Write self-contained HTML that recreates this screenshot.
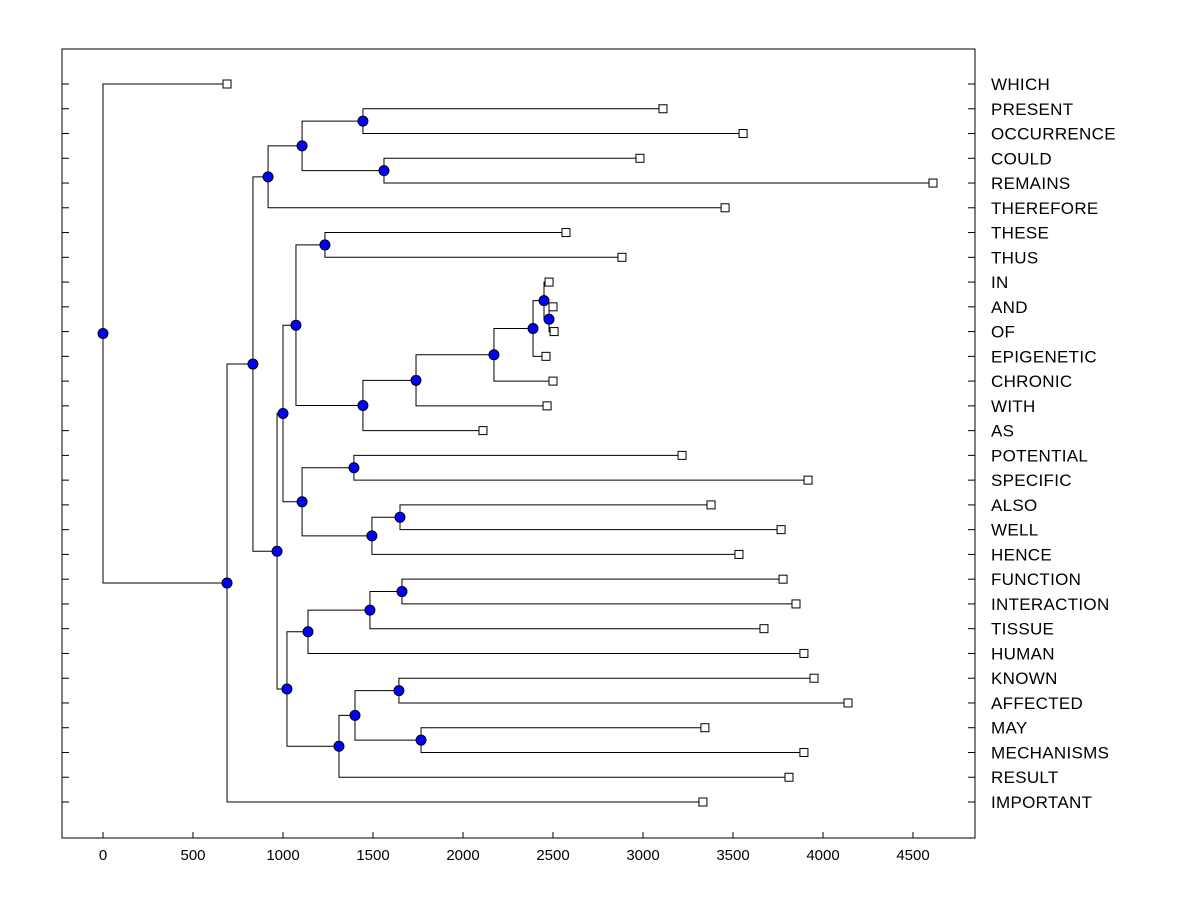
<!DOCTYPE html>
<html><head><meta charset="utf-8"><style>
body{margin:0;background:#fff;}
svg text{font-family:"Liberation Sans",sans-serif;}
</style></head><body>
<svg id="chart" width="1200" height="900" xmlns="http://www.w3.org/2000/svg">
<rect x="0" y="0" width="1200" height="900" fill="#fff"/>
<rect x="62" y="49" width="913" height="789" fill="none" stroke="#000" stroke-width="1"/>
<g id="axes"></g>
<g id="links"></g>
<g id="marks"></g>
</svg>
<script>
const leafNames=["WHICH","PRESENT","OCCURRENCE","COULD","REMAINS","THEREFORE","THESE","THUS","IN","AND","OF","EPIGENETIC","CHRONIC","WITH","AS","POTENTIAL","SPECIFIC","ALSO","WELL","HENCE","FUNCTION","INTERACTION","TISSUE","HUMAN","KNOWN","AFFECTED","MAY","MECHANISMS","RESULT","IMPORTANT"];
const leafValues=[689,3111,3556,2983,4611,3456,2572,2883,2478,2500,2506,2461,2500,2467,2111,3217,3917,3378,3767,3533,3778,3850,3672,3894,3950,4139,3344,3894,3811,3333];
const nodeIds=["F","G","E","C","L","R","Q","P","O","N","M","J","S","U","T","K","H","Y","X","V","AA","AB","Z","W","I","D","B","A","root"];
const nodeLeft=["PRESENT","COULD","F","E","THESE","AND","IN","Q","P","O","N","L","POTENTIAL","ALSO","U","S","J","FUNCTION","Y","X","KNOWN","MAY","AA","Z","V","H","C","B","WHICH"];
const nodeRight=["OCCURRENCE","REMAINS","G","THEREFORE","THUS","OF","R","EPIGENETIC","CHRONIC","WITH","AS","M","SPECIFIC","WELL","HENCE","T","K","INTERACTION","TISSUE","HUMAN","AFFECTED","MECHANISMS","AB","RESULT","W","I","D","IMPORTANT","A"];
const nodeValues=[1444,1561,1106,917,1233,2478,2450,2389,2172,1739,1444,1072,1394,1650,1494,1106,1000,1661,1483,1139,1644,1767,1400,1311,1022,967,833,689,0];
const xTicks=[0,500,1000,1500,2000,2500,3000,3500,4000,4500];

const NS="http://www.w3.org/2000/svg";
const X=v=>103+v*0.18;
const Y=i=>84+i*(802-84)/29;
function mk(tag,attrs,parent){const e=document.createElementNS(NS,tag);for(const k in attrs)e.setAttribute(k,attrs[k]);document.getElementById(parent).appendChild(e);return e;}
const pos={};
leafNames.forEach((n,i)=>{pos[n]={x:X(leafValues[i]),y:Y(i)};});
nodeIds.forEach((id,i)=>{const a=pos[nodeLeft[i]],b=pos[nodeRight[i]];pos[id]={x:X(nodeValues[i]),y:(a.y+b.y)/2};});
xTicks.forEach(t=>{
  const l=mk('line',{x1:X(t),x2:X(t),y1:838,y2:832,stroke:'#000'},'axes');
  
  
  const tx=mk('text',{x:X(t),y:860,'text-anchor':'middle','font-size':'15'},'axes');
  tx.textContent=t;
  
  
});
leafNames.forEach((n,i)=>{
  const l1=mk('line',{x1:62,x2:69,y1:Y(i),y2:Y(i),stroke:'#000'},'axes');
  
  
  const l2=mk('line',{x1:968,x2:975,y1:Y(i),y2:Y(i),stroke:'#000'},'axes');
  
  
  const tx=mk('text',{x:991,y:Y(i)+6,'font-size':'17','letter-spacing':'0.3'},'axes');
  tx.textContent=n;
  
  
});
nodeIds.forEach((id,i)=>{
  const p=pos[id],a=pos[nodeLeft[i]],b=pos[nodeRight[i]];
  const d=`M${a.x},${a.y}H${p.x}V${b.y}H${b.x}`;
  const pa=mk('path',{d:d,fill:'none',stroke:'#000','stroke-width':1},'links');
  
  
});
leafNames.forEach(n=>{
  const p=pos[n];
  const r=mk('rect',{x:p.x-4,y:p.y-4,width:8,height:8,fill:'#fff',stroke:'#000'},'marks');
  
  
});
nodeIds.forEach(id=>{
  const p=pos[id];
  const c=mk('circle',{cx:p.x,cy:p.y,r:5,fill:'#0000ff',stroke:'#000'},'marks');
  
  
});
</script>
</body></html>
